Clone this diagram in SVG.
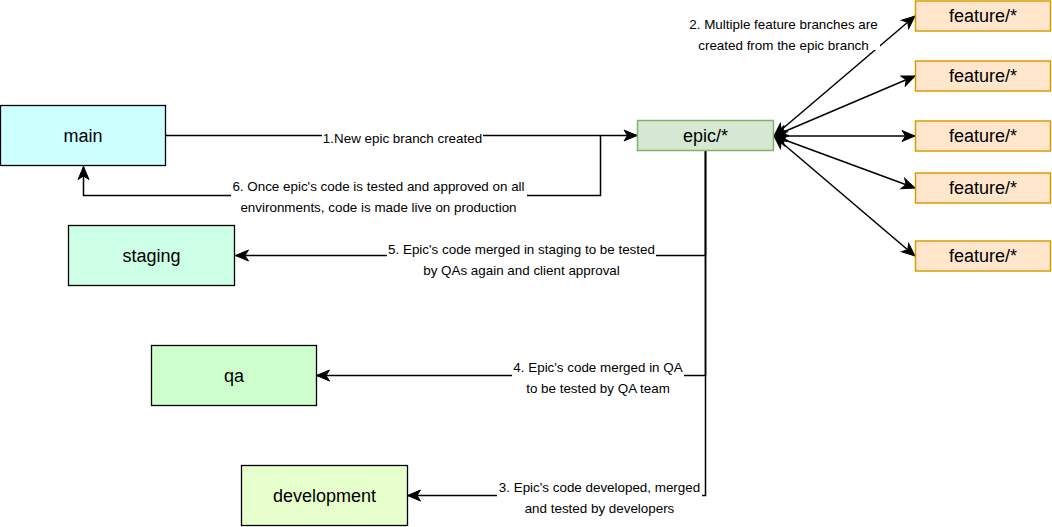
<svg xmlns="http://www.w3.org/2000/svg" width="1052" height="527" viewBox="0 0 1052 527">
<style>
  .node { stroke: #000; stroke-width: 1.3; }
  .feat { fill: #ffe6cc; stroke: #d79b00; stroke-width: 1.5; }
  .ntext { font-family: "Liberation Sans", Arial, sans-serif; font-size: 18px; fill: #000; text-anchor: middle; }
  .ltext { font-family: "Liberation Sans", Arial, sans-serif; font-size: 13.4px; fill: #000; text-anchor: middle; }
  .edge { fill: none; stroke: #000; stroke-width: 1.5; }
  .bg { fill: #fff; }
</style>
<defs>
  <marker id="arr" markerUnits="userSpaceOnUse" markerWidth="16" markerHeight="14" viewBox="0 0 16 14" refX="14" refY="7" orient="auto-start-reverse">
    <path d="M1,1.5 L14,7 L1,12.5 L4.5,7 z" fill="#000" stroke="#000" stroke-width="1"/>
  </marker>
</defs>
<rect width="1052" height="527" fill="#fff"/>

<g id="connectors">
  <path class="edge" d="M165.5,135.5 L637,135.5" marker-end="url(#arr)"/>
  <path class="edge" d="M600.5,135.5 L600.5,195.5 L83.5,195.5 L83.5,166.5" marker-end="url(#arr)"/>
  <path class="edge" d="M705.5,151 L705.5,255.5 L235.5,255.5" marker-end="url(#arr)"/>
  <path class="edge" d="M705.5,151 L705.5,375.5 L316.5,375.5" marker-end="url(#arr)"/>
  <path class="edge" d="M705.5,151 L705.5,495.5 L407.5,495.5" marker-end="url(#arr)"/>
  <path class="edge" d="M774,136 L915,16" marker-start="url(#arr)" marker-end="url(#arr)"/>
  <path class="edge" d="M774,136 L915,76" marker-start="url(#arr)" marker-end="url(#arr)"/>
  <path class="edge" d="M774,136 L915,136" marker-start="url(#arr)" marker-end="url(#arr)"/>
  <path class="edge" d="M774,136 L915,188" marker-start="url(#arr)" marker-end="url(#arr)"/>
  <path class="edge" d="M774,136 L915,256" marker-start="url(#arr)" marker-end="url(#arr)"/>

  <g id="label1">
    <rect class="bg" x="322" y="129" width="161" height="16"/>
    <text class="ltext" x="402.5" y="143">1.New epic branch created</text>
  </g>
  <g id="label2">
    <rect class="bg" x="688" y="12" width="192" height="38"/>
    <text class="ltext" x="783.5" y="29">2. Multiple feature branches are</text>
    <text class="ltext" x="783.5" y="50">created from the epic branch</text>
  </g>
  <g id="label6">
    <rect class="bg" x="231" y="178" width="296" height="38"/>
    <text class="ltext" x="378.5" y="191">6. Once epic's code is tested and approved on all</text>
    <text class="ltext" x="378.5" y="212">environments, code is made live on production</text>
  </g>
  <g id="label5">
    <rect class="bg" x="387" y="241" width="269" height="38"/>
    <text class="ltext" x="521.5" y="254">5. Epic's code merged in staging to be tested</text>
    <text class="ltext" x="521.5" y="275">by QAs again and client approval</text>
  </g>
  <g id="label4">
    <rect class="bg" x="512" y="360" width="172" height="38"/>
    <text class="ltext" x="598" y="372">4. Epic's code merged in QA</text>
    <text class="ltext" x="598" y="393">to be tested by QA team</text>
  </g>
  <g id="label3">
    <rect class="bg" x="497" y="480" width="205" height="38"/>
    <text class="ltext" x="599.5" y="492">3. Epic's code developed, merged</text>
    <text class="ltext" x="599.5" y="513">and tested by developers</text>
  </g>
</g>

<g id="main">
  <rect class="node" x="0.5" y="105.5" width="165" height="60" fill="#ccffff"/>
  <text class="ntext" x="83" y="141.5">main</text>
</g>
<g id="epic">
  <rect x="637.5" y="120.5" width="136" height="30" fill="#d5e8d4" stroke="#82b366" stroke-width="1.5"/>
  <text class="ntext" x="705.5" y="141.5">epic/*</text>
</g>
<g id="staging">
  <rect class="node" x="68.5" y="225.5" width="166" height="60" fill="#ccffe6"/>
  <text class="ntext" x="151.5" y="261.5">staging</text>
</g>
<g id="qa">
  <rect class="node" x="151.5" y="345.5" width="165" height="60" fill="#ccffcc"/>
  <text class="ntext" x="234" y="381.5">qa</text>
</g>
<g id="development">
  <rect class="node" x="241.5" y="465.5" width="166" height="60" fill="#e6ffcc"/>
  <text class="ntext" x="324.5" y="501.5">development</text>
</g>
<g id="feature1">
  <rect class="feat" x="915.5" y="1" width="135" height="30"/>
  <text class="ntext" x="983" y="21.5">feature/*</text>
</g>
<g id="feature2">
  <rect class="feat" x="915.5" y="61" width="135" height="30"/>
  <text class="ntext" x="983" y="81.5">feature/*</text>
</g>
<g id="feature3">
  <rect class="feat" x="915.5" y="121" width="135" height="30"/>
  <text class="ntext" x="983" y="141.5">feature/*</text>
</g>
<g id="feature4">
  <rect class="feat" x="915.5" y="173" width="135" height="30"/>
  <text class="ntext" x="983" y="193.5">feature/*</text>
</g>
<g id="feature5">
  <rect class="feat" x="915.5" y="241" width="135" height="30"/>
  <text class="ntext" x="983" y="261.5">feature/*</text>
</g>
</svg>
